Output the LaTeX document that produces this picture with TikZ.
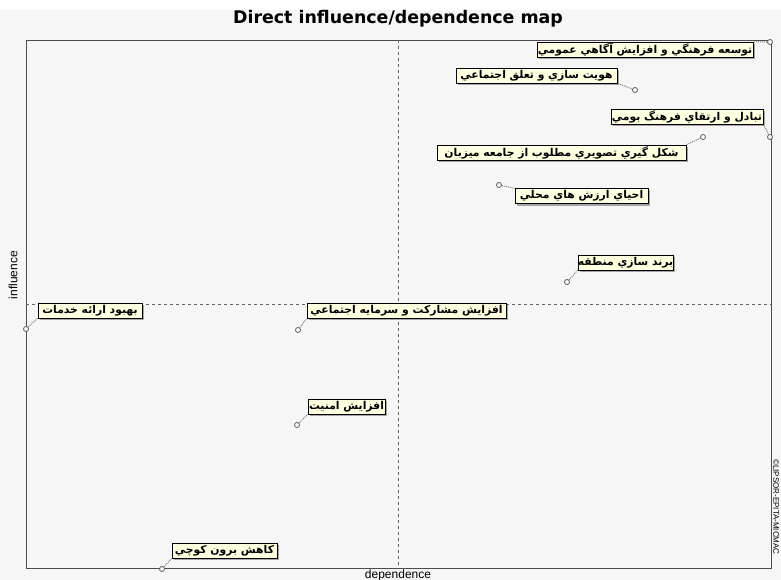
\documentclass[tikz,border=0pt]{standalone}
\usepackage{fontspec}
\setmainfont{Liberation Sans}
\newfontfamily\arabicfont[Script=Arabic]{DejaVu Sans}
\newfontfamily\titlefont{DejaVu Sans}
\TeXXeTstate=1
\usetikzlibrary{shadows}
\definecolor{bgcol}{HTML}{F6F6F6}
\definecolor{tipcol}{HTML}{FFFFE1}
\newcommand{\fatext}[1]{{\arabicfont\bfseries\beginR #1\endR}}
\tikzset{x=1pt, y=-1pt,
  tip/.style={draw=black, fill=tipcol, inner sep=0pt, minimum height=15pt,
    font=\fontsize{10.8}{12}\selectfont,
    drop shadow={shadow xshift=2pt, shadow yshift=-2pt, fill=gray!70, opacity=1}},
  pnt/.style={circle, draw=black!65, fill=white, inner sep=0pt, minimum size=5pt, line width=0.8pt},
  lnk/.style={gray, densely dotted, line width=1pt},
  midline/.style={black!60, dashed, line width=0.5pt}}

\begin{document}
\begin{tikzpicture}
  \useasboundingbox (0,0) rectangle (781,580);
  \fill[white] (0,0) rectangle (781,580);
  \fill[bgcol] (0,10) rectangle (781,580);

  \node (title) at (398,19) {\titlefont\bfseries\fontsize{17.4}{20}\selectfont Direct influence/dependence map};
  \node[rotate=90, font=\fontsize{12}{14}\selectfont] (infl) at (13,275) {influence};
  \node[font=\fontsize{12}{14}\selectfont] (dep) at (398,575) {dependence};
  \node[rotate=-90, font=\fontsize{8}{9}\selectfont] (copy) at (776,507) {©LIPSOR-EPITA-MICMAC};

  % frame and middle lines
  \draw[black!70, line width=0.8pt] (26,40) rectangle (771,568);
  \coordinate (vt) at (398,40);
  \coordinate (vb) at (398,568);
  \coordinate (hl) at (26,304);
  \coordinate (hr) at (771,304);
  \draw[midline] (vt) -- (vb);
  \draw[midline] (hl) -- (hr);

  % variables
  \node[pnt] (p1) at (770,42) {};
  \node[pnt] (p2) at (635,90) {};
  \node[pnt] (p3) at (770,137) {};
  \node[pnt] (p4) at (703,137) {};
  \node[pnt] (p5) at (499,185) {};
  \node[pnt] (p6) at (567,282) {};
  \node[pnt] (p7) at (26,329) {};
  \node[pnt] (p8) at (298,330) {};
  \node[pnt] (p9) at (297,425) {};
  \node[pnt] (p10) at (162,569) {};

  \node[tip, minimum width=216pt] (b1) at (645,49.5) {\fatext{توسعه فرهنگي و افزايش آگاهي عمومي}};
  \node[tip, minimum width=161pt] (b2) at (536.5,75.5) {\fatext{هويت سازي و تعلق اجتماعي}};
  \node[tip, minimum width=152pt] (b3) at (687,116.5) {\fatext{تبادل و ارتقاي فرهنگ بومي}};
  \node[tip, minimum width=249pt] (b4) at (561.5,152.5) {\fatext{شکل گيري تصويري مطلوب از جامعه ميزبان}};
  \node[tip, minimum width=133pt] (b5) at (581.5,196) {\fatext{احياي ارزش هاي محلي}};
  \node[tip, minimum width=95pt] (b6) at (625.5,262.5) {\fatext{برند سازي منطقه}};
  \node[tip, minimum width=104pt] (b7) at (90,310.5) {\fatext{بهبود ارائه خدمات}};
  \node[tip, minimum width=199pt] (b8) at (406.5,310.5) {\fatext{افزايش مشارکت و سرمايه اجتماعي}};
  \node[tip, minimum width=77pt] (b9) at (346.5,406.5) {\fatext{افزايش امنيت}};
  \node[tip, minimum width=105pt] (b10) at (224.5,550.5) {\fatext{کاهش برون کوچي}};

  \draw[lnk] (p1) -- (b1.north east);
  \draw[lnk] (p2) -- (b2.south east);
  \draw[lnk] (p3) -- (b3.south east);
  \draw[lnk] (p4) -- (b4.north east);
  \draw[lnk] (p5) -- (b5.north west);
  \draw[lnk] (p6) -- (b6.south west);
  \draw[lnk] (p7) -- (b7.south west);
  \draw[lnk] (p8) -- (b8.south west);
  \draw[lnk] (p9) -- (b9.south west);
  \draw[lnk] (p10) -- (b10.south west);
\end{tikzpicture}
\end{document}
